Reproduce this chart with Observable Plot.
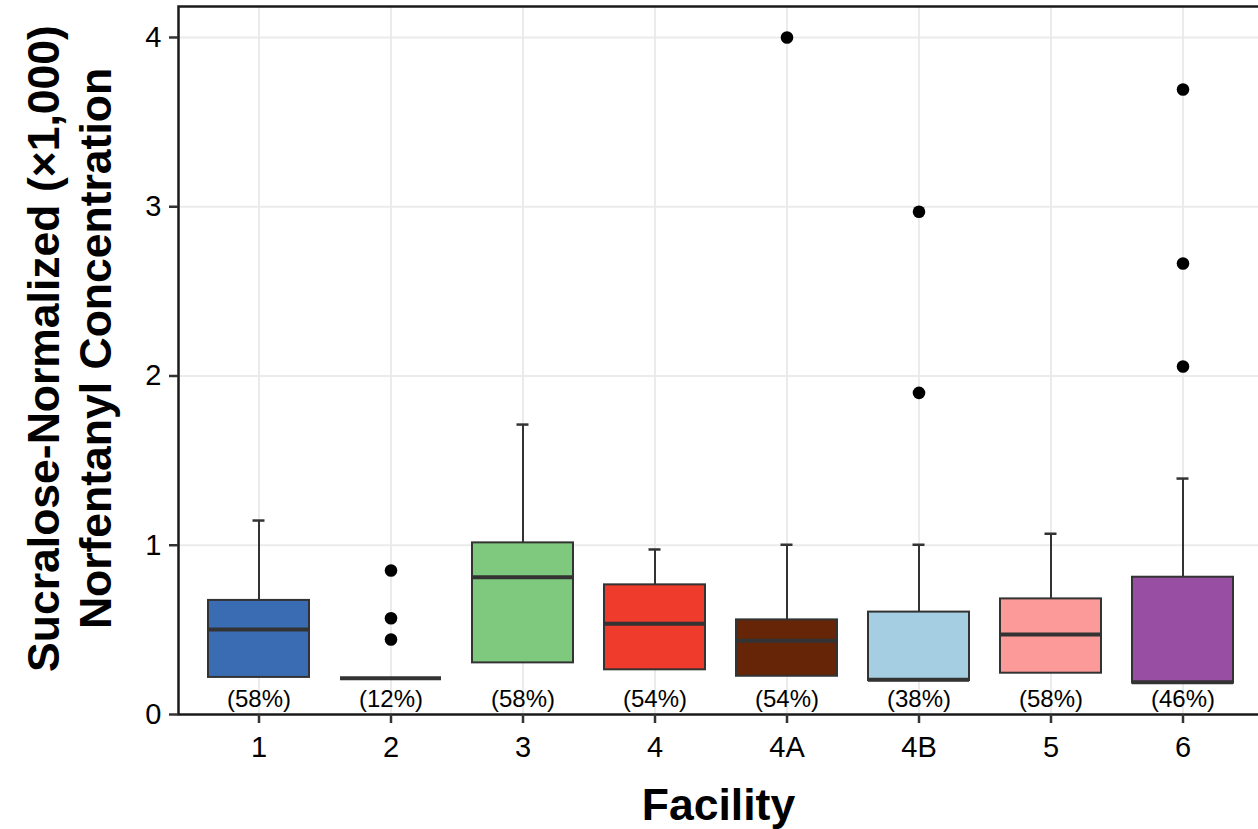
<!DOCTYPE html>
<html>
<head>
<meta charset="utf-8">
<script src="https://cdn.jsdelivr.net/npm/d3@7"></script>
<script src="https://cdn.jsdelivr.net/npm/@observablehq/plot@0.6"></script>
<style>
html, body { margin: 0; padding: 0; overflow: hidden; background: #fff; width: 1258px; }
#chart svg { display: block; overflow: hidden; }
</style>
</head>
<body>
<div id="chart"></div>
<script>
// Categories and summary statistics
const facilities = ["1", "2", "3", "4", "4A", "4B", "5", "6"];
const q1Values = [0.219, 0.214, 0.305, 0.264, 0.226, 0.200, 0.244, 0.185];
const medianValues = [0.502, 0.214, 0.811, 0.536, 0.435, 0.205, 0.473, 0.190];
const q3Values = [0.674, 0.214, 1.014, 0.766, 0.559, 0.605, 0.683, 0.811];
const whiskerHighValues = [1.146, 0.214, 1.713, 0.975, 1.003, 1.003, 1.068, 1.394];
const detectLabels = ["(58%)", "(12%)", "(58%)", "(54%)", "(54%)", "(38%)", "(58%)", "(46%)"];
const boxColors = ["#3A6CB4", "#BDBDBD", "#7FC97F", "#EF3B2C", "#662506", "#A6CEE3", "#FB9A99", "#984EA3"];

const outlierFacility = ["2", "2", "2", "4A", "4B", "4B", "6", "6", "6"];
const outlierValues = [0.851, 0.569, 0.443, 4.0, 2.97, 1.90, 3.693, 2.665, 2.056];

const yTicks = [0, 1, 2, 3, 4];
const yTitleLines = ["Sucralose-Normalized (\u00d71,000)", "Norfentanyl Concentration"];
const xTitle = "Facility";

// Tables built from the arrays
const boxes = facilities.map((f, i) => ({
  facility: f, q1: q1Values[i], median: medianValues[i], q3: q3Values[i],
  hi: whiskerHighValues[i], label: detectLabels[i]
}));
const outliers = outlierFacility.map((f, i) => ({facility: f, value: outlierValues[i]}));

const font = "'Liberation Sans', Arial, Helvetica, sans-serif";

const chart = Plot.plot({
  width: 1258,
  height: 829,
  marginLeft: 178,
  marginRight: 0,
  marginTop: 6,
  marginBottom: 115,
  style: {fontFamily: font, color: "#000", background: "#fff", overflow: "hidden"},
  x: {type: "band", domain: facilities, range: [178, 1263], paddingInner: 0.235, paddingOuter: 0.2175, label: null},
  y: {domain: [0, 4.183], label: null},
  color: {domain: facilities, range: boxColors},
  marks: [
    Plot.gridY([1, 2, 3, 4], {stroke: "#EBEBEB", strokeOpacity: 1, strokeWidth: 2}),
    Plot.gridX(facilities, {stroke: "#EBEBEB", strokeOpacity: 1, strokeWidth: 2}),
    Plot.ruleX(boxes, {x: "facility", y1: "q3", y2: "hi", stroke: "#333", strokeWidth: 2}),
    Plot.tickY(boxes, {x: "facility", y: "hi", stroke: "#333", strokeWidth: 2.5, insetLeft: 44.5, insetRight: 44.5}),
    Plot.barY(boxes, {x: "facility", y1: "q1", y2: "q3", fill: "facility", stroke: "#333", strokeWidth: 2}),
    Plot.tickY(boxes, {x: "facility", y: "median", stroke: "#333", strokeWidth: 4}),
    Plot.dot(outliers, {x: "facility", y: "value", r: 6.3, fill: "#000", stroke: null}),
    Plot.text(boxes, {x: "facility", y: () => 0, text: "label", dy: -15, fontSize: 24, fill: "#000", lineAnchor: "middle"}),
    Plot.frame({stroke: "#1a1a1a", strokeWidth: 2.5, insetRight: -20}),
    Plot.axisX({tickSize: 9, tickPadding: 13, fontSize: 29, strokeWidth: 2.5, stroke: "#333", fill: "#000", label: null}),
    Plot.axisY({ticks: yTicks, tickSize: 9, tickPadding: 8, fontSize: 29, strokeWidth: 2.5, stroke: "#333", fill: "#000", label: null, tickFormat: d3.format("d")}),
    Plot.text([yTitleLines[0]], {frameAnchor: "left", dx: -120, dy: -12, rotate: -90, fontSize: 44.5, fontWeight: "bold", lineAnchor: "bottom", textAnchor: "middle", fill: "#000"}),
    Plot.text([yTitleLines[1]], {frameAnchor: "left", dx: -68, dy: -12, rotate: -90, fontSize: 44.5, fontWeight: "bold", lineAnchor: "bottom", textAnchor: "middle", fill: "#000"}),
    Plot.text([xTitle], {frameAnchor: "bottom", dy: 105, fontSize: 44.5, fontWeight: "bold", lineAnchor: "bottom", textAnchor: "middle", fill: "#000"})
  ]
});
document.getElementById("chart").appendChild(chart);
</script>
</body>
</html>
